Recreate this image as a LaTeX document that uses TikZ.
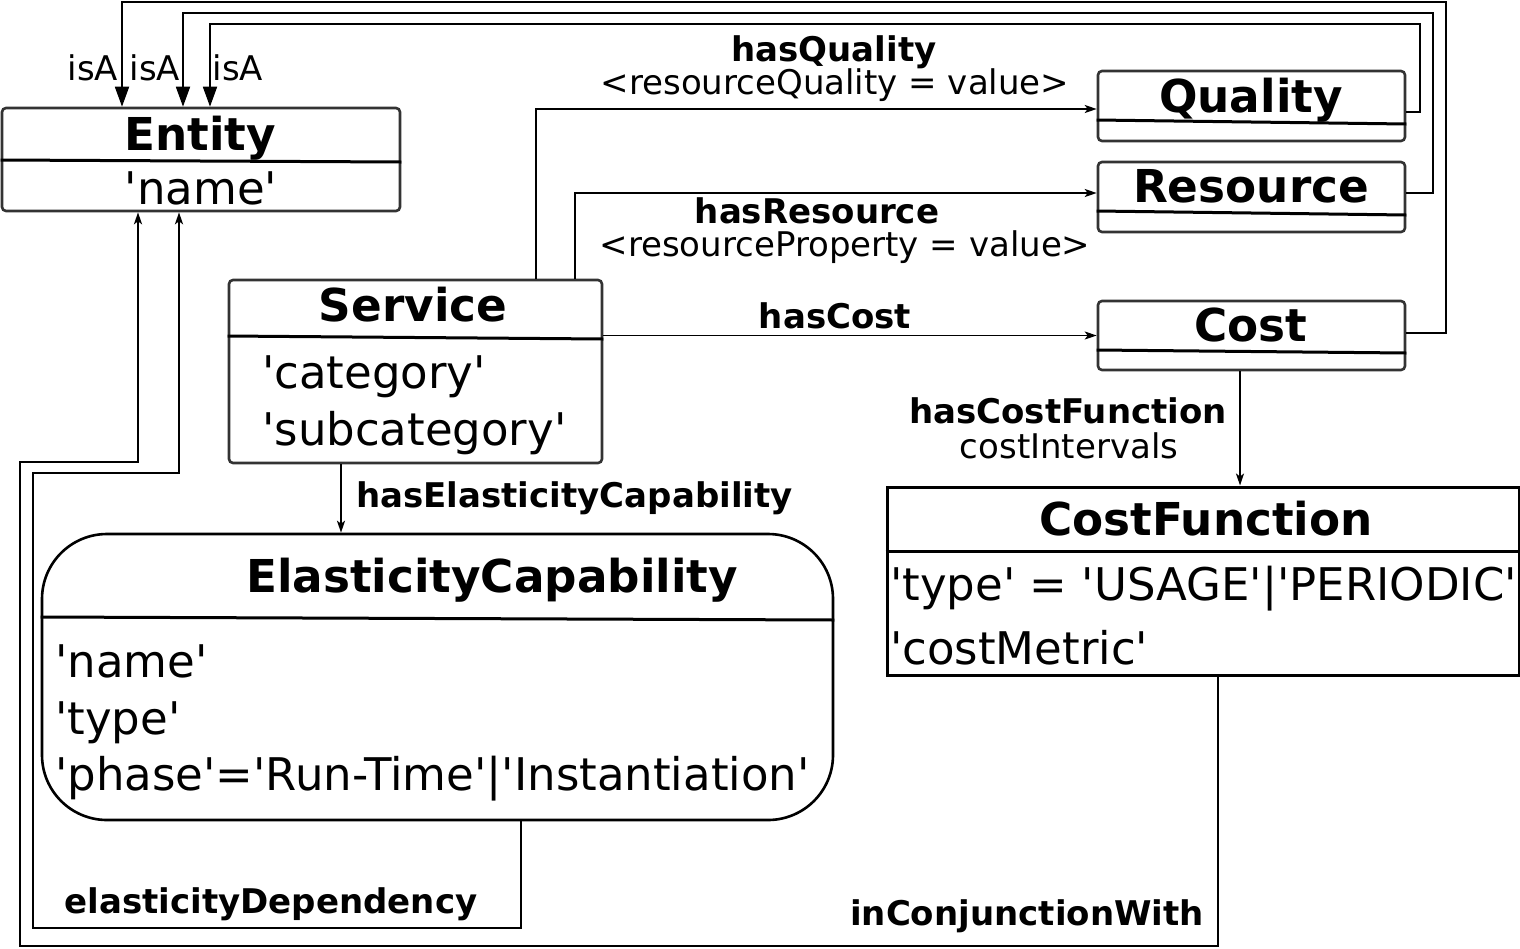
\documentclass[tikz,border=0pt]{standalone}
\usepackage{fontspec}
\setmainfont{DejaVu Sans}[Ligatures=TeXOff]
\usepackage{xcolor}
\usetikzlibrary{arrows.meta}
\definecolor{boxgray}{HTML}{333333}

\tikzset{
  cls/.style={draw=boxgray, line width=2.6pt, rounded corners=4pt, inner sep=0},
  ttl/.style={font=\fontsize{45.3}{50}\selectfont\bfseries, inner sep=0, anchor=base},
  attr/.style={font=\fontsize{45}{52}\selectfont, inner sep=0, anchor=base west},
  lbl/.style={font=\fontsize{34}{38}\selectfont, inner sep=0, anchor=base},
  blbl/.style={lbl, font=\fontsize{34}{38}\selectfont\bfseries},
  sep/.style={line width=3pt},
  assoc/.style={line width=1.8pt, -{Stealth[length=12pt,width=8pt,inset=3pt]}},
  isa/.style={line width=1.8pt, -{Triangle[length=20pt,width=14pt]}},
}

\begin{document}
\begin{tikzpicture}[x=1pt,y=-1pt]
\useasboundingbox (0,0) rectangle (1520,948);

% classes
\node[cls, minimum width=398pt, minimum height=103pt] (entity) at (201,159.5) {};
\node[ttl] (entityT) at (200,150) {Entity};
\node[attr, anchor=base] (entityA) at (201,204) {'name'};
\draw[sep] ([yshift=-0.5pt]entity.west) -- ([yshift=-2.5pt]entity.east);

\node[cls, minimum width=373pt, minimum height=183pt] (service) at (415.5,371.5) {};
\node[ttl] (serviceT) at (413,321) {Service};
\node[attr] (serviceA1) at (262,388) {'category'};
\node[attr] (serviceA2) at (262,445) {'subcategory'};
\draw[sep] ([yshift=35.5pt]service.west) -- ([yshift=32.5pt]service.east);

\node[cls, minimum width=307pt, minimum height=70pt] (quality) at (1251.5,106) {};
\node[ttl] (qualityT) at (1251,112) {Quality};
\draw[sep] ([yshift=-14pt]quality.west) -- ([yshift=-18pt]quality.east);

\node[cls, minimum width=307pt, minimum height=70pt] (resource) at (1251.5,197) {};
\node[ttl] (resourceT) at (1251,202) {Resource};
\draw[sep] ([yshift=-14pt]resource.west) -- ([yshift=-18pt]resource.east);

\node[cls, minimum width=307pt, minimum height=69pt] (cost) at (1251.5,335.5) {};
\node[ttl] (costT) at (1251,341) {Cost};
\draw[sep] ([yshift=-14.5pt]cost.west) -- ([yshift=-17.5pt]cost.east);

\node[draw, line width=3pt, inner sep=0, minimum width=632pt, minimum height=188pt] (costfn) at (1203,581) {};
\node[ttl] (costfnT) at (1206,535) {CostFunction};
\node[attr] (costfnA1) at (890,600) {'type' = 'USAGE'|'PERIODIC'};
\node[attr] (costfnA2) at (890,664) {'costMetric'};
\draw[sep] ([yshift=30pt]costfn.west) -- ([yshift=30pt]costfn.east);

\node[draw, line width=2.6pt, rounded corners=65pt, inner sep=0, minimum width=791pt, minimum height=286pt] (ec) at (437.5,677) {};
\node[ttl] (ecT) at (492,592) {ElasticityCapability};
\node[attr] (ecA1) at (55,677) {'name'};
\node[attr] (ecA2) at (55,734) {'type'};
\node[attr] (ecA3) at (55,790) {'phase'='Run-Time'|'Instantiation'};
\draw[sep] ([yshift=60pt]ec.west) -- ([yshift=57pt]ec.east);

% guide points
\coordinate (r1) at (1446,2);
\coordinate (r2) at (1433,13);
\coordinate (r3) at (1420,24);
\coordinate (xa1) at (122,0);
\coordinate (xa2) at (183,0);
\coordinate (xa3) at (210,0);
\coordinate (xq) at (536,0);
\coordinate (xr) at (575,0);
\coordinate (xe) at (341,0);
\coordinate (xcf) at (1240,0);
\coordinate (icw) at (1218,946);
\coordinate (icwL) at (20,462);
\coordinate (xe1) at (138,0);
\coordinate (edp) at (521,928);
\coordinate (edpL) at (33,473);
\coordinate (xe2) at (179,0);

% isA
\draw[isa] ([yshift=2.5pt]cost.east) -| (r1) -| (entity.north -| xa1);
\draw[isa] ([yshift=4pt]resource.east) -| (r2) -| (entity.north -| xa2);
\draw[isa] ([yshift=-6pt]quality.east) -| (r3) -| (entity.north -| xa3);
\node[lbl] (isa1) at (93,80) {isA};
\node[lbl] (isa2) at (155,80) {isA};
\node[lbl] (isa3) at (238,80) {isA};

% associations
\draw[assoc] (service.north -| xq) |- ([yshift=-3pt]quality.west);
\node[blbl] (hq) at (834,61) {hasQuality};
\node[lbl] (hqv) at (835,94) {<resourceQuality = value>};

\draw[assoc] (service.north -| xr) |- ([yshift=4pt]resource.west);
\node[blbl] (hr) at (817,223) {hasResource};
\node[lbl] (hrv) at (845,256) {<resourceProperty = value>};

\draw[assoc] (service.east |- cost.west) -- (cost.west);
\node[blbl] (hc) at (835,328) {hasCost};

\draw[assoc] (service.south -| xe) -- (ec.north -| xe);
\node[blbl, anchor=base west] (hec) at (356,507) {hasElasticityCapability};

\draw[assoc] (cost.south -| xcf) -- (costfn.north -| xcf);
\node[blbl] (hcf) at (1068,423) {hasCostFunction};
\node[lbl] (hcfv) at (1069,458) {costIntervals};

\draw[assoc] (costfn.south -| icw) -- (icw) -| (icwL) -| (entity.south -| xe1);
\node[blbl] (icwT) at (1027,925) {inConjunctionWith};

\draw[assoc] (ec.south -| edp) -- (edp) -| (edpL) -| (entity.south -| xe2);
\node[blbl] (edpT) at (271,913) {elasticityDependency};
\end{tikzpicture}
\end{document}
